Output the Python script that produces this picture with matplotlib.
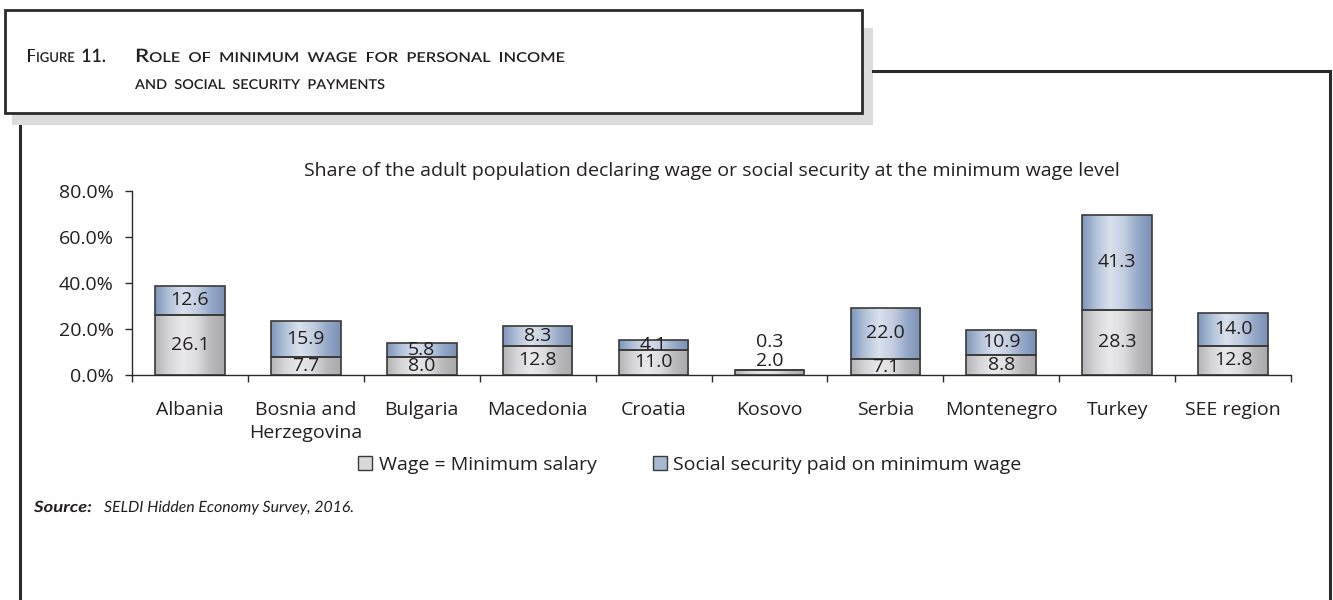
import matplotlib
matplotlib.use("Agg")
import matplotlib.pyplot as plt
import numpy as np
from matplotlib.colors import LinearSegmentedColormap
from matplotlib.patches import Rectangle, Patch, PathPatch
from matplotlib.lines import Line2D
from matplotlib.textpath import TextPath, text_to_path
from matplotlib.font_manager import FontProperties
from matplotlib.transforms import Affine2D, IdentityTransform

categories = ["Albania", "Bosnia and\nHerzegovina", "Bulgaria", "Macedonia", "Croatia",
              "Kosovo", "Serbia", "Montenegro", "Turkey", "SEE region"]
wage_min = [26.1, 7.7, 8.0, 12.8, 11.0, 2.0, 7.1, 8.8, 28.3, 12.8]
social_min = [12.6, 15.9, 5.8, 8.3, 4.1, 0.3, 22.0, 10.9, 41.3, 14.0]
series_names = ["Wage = Minimum salary", "Social security paid on minimum wage"]
yticks = [0, 20, 40, 60, 80]
ytick_labels = ["0.0%", "20.0%", "40.0%", "60.0%", "80.0%"]

TXT = "#231f20"
FONT = ["Open Sans", "DejaVu Sans"]
plt.rcParams["font.family"] = FONT
FS = 14

W, H = 1333, 600
fig = plt.figure(figsize=(W / 100, H / 100), dpi=100)

def fx(px):
    return px / W

def fy(py):
    return 1 - py / H

# ---- frames ----
fig.patches.append(Rectangle((fx(12), fy(125)), fx(873) - fx(12), fy(28) - fy(125),
                             transform=fig.transFigure, facecolor="#dcdcdc", edgecolor="none", zorder=0))
fig.patches.append(Rectangle((fx(5), fy(113)), fx(862) - fx(5), fy(10) - fy(113),
                             transform=fig.transFigure, facecolor="white", edgecolor="#2b2b2b",
                             linewidth=2.0, zorder=1))
for xs, ys in [([20, 20], [126, 600]), ([873, 1330], [71, 71]), ([1330, 1330], [71, 600])]:
    fig.lines.append(Line2D([fx(v) for v in xs], [fy(v) for v in ys], transform=fig.transFigure,
                            color="#2b2b2b", linewidth=2.2, zorder=1))

# ---- text drawn as paths (allows fitting to a width) ----
def path_text(pieces, x0, baseline, target_width, family="Lato", style="normal", weight="normal"):
    items = []
    total = 0.0
    for s, size, wt in pieces:
        fp = FontProperties(family=family, style=style, weight=wt or weight, size=size)
        w, h, d = text_to_path.get_text_width_height_descent(s, fp, ismath=False)
        items.append((s, size, fp, total))
        total += w
    sx = target_width / total
    for s, size, fp, adv in items:
        if not s.strip():
            continue
        tp = TextPath((0, 0), s, size=size, prop=fp)
        tr = Affine2D().translate(adv, 0).scale(sx, 1).translate(x0, H - baseline)
        p = PathPatch(tr.transform_path(tp), facecolor=TXT, edgecolor="none",
                      transform=IdentityTransform(), zorder=5)
        fig.add_artist(p)

BIG, SMALL = 18.5, 13.6

def sc(text, gap="  "):
    out = []
    for i, word in enumerate(text.split(" ")):
        if i > 0:
            out.append((gap, SMALL, None))
        first = word[0]
        big = first.isupper() or first.isdigit()
        out.append((first.upper(), BIG if big else SMALL, None))
        if len(word) > 1:
            out.append((word[1:].upper(), BIG if word[1].isdigit() else SMALL, None))
    return out

path_text(sc("Figure 11."), 26, 62, 80, weight="semibold")
path_text(sc("Role of minimum wage for personal income"), 135, 62, 430, weight="semibold")
path_text(sc("and social security payments"), 135, 89, 250, weight="semibold")

# ---- axes ----
ax = fig.add_axes([fx(132), fy(375), fx(1291) - fx(132), fy(191) - fy(375)])
n = len(categories)
x = np.arange(n)
bw = 0.6

grey_cmap = LinearSegmentedColormap.from_list("g", ["#b4b4b6", "#d6d6d8", "#e9e9eb", "#dcdcde", "#b9b9bb", "#a9a9ab"])
blue_cmap = LinearSegmentedColormap.from_list("b", ["#7d96bb", "#b2c2d8", "#d9e1ec", "#c2cfe0", "#95a9c8", "#7a91b5"])
grad = np.linspace(0, 1, 256).reshape(1, -1)

def grad_bar(xc, bottom, height, cmap):
    r = Rectangle((xc - bw / 2, bottom), bw, height, facecolor="none", edgecolor="#3a3a3a",
                  linewidth=1.2, zorder=3)
    ax.add_patch(r)
    im = ax.imshow(grad, cmap=cmap, aspect="auto", interpolation="bicubic",
                   extent=(xc - bw / 2, xc + bw / 2, bottom, bottom + height), zorder=2)
    im.set_clip_path(r)

ax.bar(x, wage_min, bw, color="none", edgecolor="none")
ax.bar(x, social_min, bw, bottom=wage_min, color="none", edgecolor="none")
for i in range(n):
    grad_bar(x[i], 0, wage_min[i], grey_cmap)
    grad_bar(x[i], wage_min[i], social_min[i], blue_cmap)

for i in range(n):
    w, s = wage_min[i], social_min[i]
    if w + s < 5:
        top = w + s
        ax.annotate(f"{w:.1f}", (x[i], top), xytext=(0, 6), textcoords="offset points",
                    ha="center", va="center", fontsize=FS, color=TXT, zorder=5)
        ax.annotate(f"{s:.1f}", (x[i], top), xytext=(0, 20), textcoords="offset points",
                    ha="center", va="center", fontsize=FS, color=TXT, zorder=5)
    else:
        ax.text(x[i], w / 2, f"{w:.1f}", ha="center", va="center", fontsize=FS, color=TXT, zorder=5)
        ax.text(x[i], w + s / 2, f"{s:.1f}", ha="center", va="center", fontsize=FS, color=TXT, zorder=5)

ax.set_xlim(-0.5, n - 0.5)
ax.set_ylim(0, 80)
for sp in ["top", "right"]:
    ax.spines[sp].set_visible(False)
for sp in ["left", "bottom"]:
    ax.spines[sp].set_color("#2b2b2b")
    ax.spines[sp].set_linewidth(1.0)

ax.set_yticks(yticks)
ax.set_yticklabels(ytick_labels, fontsize=FS, color=TXT)
ax.tick_params(axis="y", length=5, width=1.0, color="#2b2b2b", pad=8)

ax.set_xticks(x)
ax.set_xticklabels(categories, fontsize=FS, color=TXT, linespacing=1.3, va="top")
ax.tick_params(axis="x", which="major", length=0, pad=19)
ax.set_xticks(np.arange(-0.5, n, 1.0), minor=True)
ax.tick_params(axis="x", which="minor", length=5, width=1.0, color="#2b2b2b")

ax.set_title("Share of the adult population declaring wage or social security at the minimum wage level",
             fontsize=FS, color=TXT, pad=11)

handles = [Patch(facecolor="#d9d9db", edgecolor="#3a3a3a", linewidth=1.0),
           Patch(facecolor="#a7b8d2", edgecolor="#3a3a3a", linewidth=1.0)]
fig.legend(handles, series_names, loc="center", bbox_to_anchor=(fx(690), fy(465)), ncol=2,
           frameon=False, fontsize=FS, handlelength=0.7, handleheight=0.7, handletextpad=0.35,
           columnspacing=2.9, labelcolor=TXT)

# source line
path_text([("Source:", 15.5, "bold")], 34, 512, 58, family="Lato", style="italic")
path_text([("SELDI Hidden Economy Survey, 2016.", 15.5, None)], 104, 512, 250,
          family="Lato", style="italic")

fig.savefig("out.png", dpi=100, facecolor="white")
